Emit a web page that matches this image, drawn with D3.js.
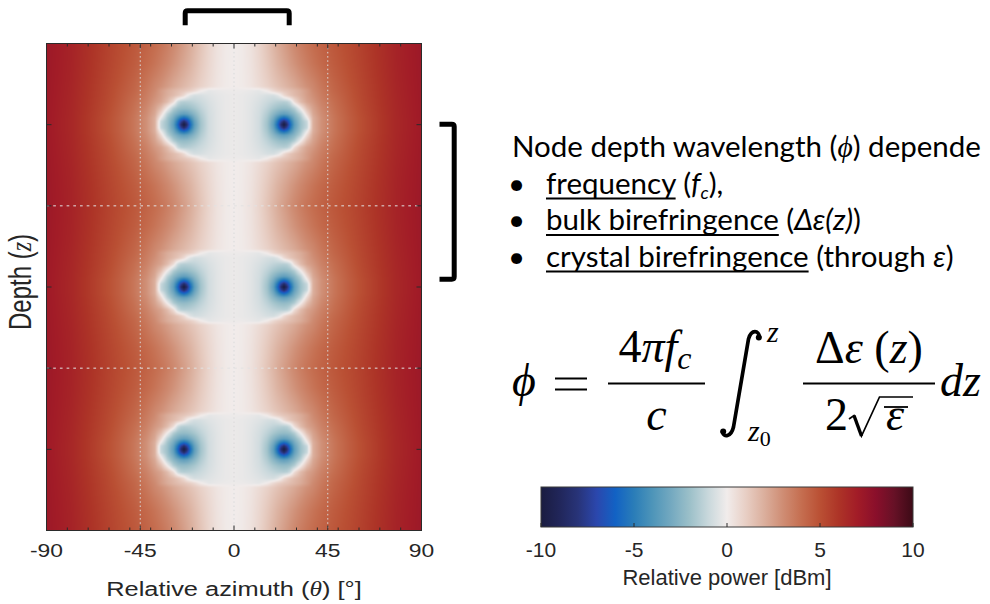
<!DOCTYPE html>
<html>
<head>
<meta charset="utf-8">
<script src="https://cdn.jsdelivr.net/npm/d3@7"></script>
<style>
  html, body { margin: 0; padding: 0; background: #fff; }
  svg { display: block; }
</style>
</head>
<body>
<svg id="fig" width="990" height="604"></svg>
<script>
// ---------- data ----------
// Azimuth axis (degrees) and depth axis (node spacing units, depth grows downward)
const azimuthTicks = [-90, -45, 0, 45, 90];
const azimuthMinorTicks = [-80, -70, -60, -50, -40, -30, -20, -10, 10, 20, 30, 40, 50, 60, 70, 80];
const azimuthGrid = [-45, 0, 45];
const depthTicks = [0, 1, 2, 3, 4, 5, 6];
const depthGrid = [2, 4];

// Depths of the node pairs; each node band shares the same power pattern
const nodeDepths = [1, 3, 5];

// Sample columns: |azimuth| in degrees (pattern is mirror-symmetric about 0)
const thetaCols = [0, 4, 8, 12, 16, 19, 21, 22.5, 24, 25.5, 27, 29, 32, 35, 38, 42, 48, 55, 62, 70, 78, 90];
// Sample rows: distance in depth from the nearest node row
const depthOffsets = [0, 0.04, 0.08, 0.13, 0.2, 0.28, 0.36, 0.42, 0.47, 0.52, 0.6, 0.75, 1.0];

// Relative power [dBm], one row per depth offset, one value per azimuth column
const powerGrid = [
  [-0.15, -0.2, -0.4, -0.8, -1.9, -3.6, -5.8, -8.3, -10, -8.3, -5.8, -3.6, -2.0, -1.1, 2.0, 2.9, 3.75, 4.5, 5.15, 5.85, 6.5, 7.15],
  [-0.15, -0.2, -0.4, -0.8, -1.85, -3.4, -5.3, -7.2, -8.4, -7.2, -5.3, -3.4, -1.95, -1.0, 2.0, 2.9, 3.75, 4.5, 5.15, 5.85, 6.5, 7.15],
  [-0.15, -0.2, -0.4, -0.78, -1.75, -3.0, -4.3, -5.3, -5.8, -5.3, -4.3, -3.0, -1.8, -0.2, 2.0, 2.9, 3.75, 4.5, 5.15, 5.85, 6.5, 7.15],
  [-0.15, -0.2, -0.4, -0.75, -1.55, -2.45, -3.0, -3.35, -3.5, -3.35, -3.0, -2.45, -1.3, 0.6, 2.2, 3.0, 3.8, 4.55, 5.2, 5.87, 6.52, 7.16],
  [-0.15, -0.2, -0.38, -0.7, -1.25, -1.75, -2.0, -2.15, -2.2, -2.15, -2.0, -1.5, 0.0, 1.5, 2.4, 3.15, 3.9, 4.6, 5.25, 5.9, 6.53, 7.17],
  [-0.15, -0.2, -0.35, -0.6, -0.95, -1.2, -1.35, -1.4, -1.45, -1.35, -0.9, 0.5, 1.6, 2.3, 2.7, 3.35, 4.0, 4.68, 5.3, 5.93, 6.55, 7.18],
  [-0.15, -0.2, -0.3, -0.45, -0.65, -0.7, -0.4, 0.0, 0.6, 1.0, 1.3, 1.6, 2.0, 2.5, 2.95, 3.5, 4.15, 4.75, 5.35, 5.96, 6.57, 7.19],
  [-0.1, -0.12, -0.2, -0.3, 0.1, 0.7, 1.0, 1.15, 1.3, 1.4, 1.55, 1.75, 2.1, 2.55, 3.1, 3.6, 4.25, 4.8, 5.38, 5.98, 6.59, 7.2],
  [0.0, 0.08, 0.25, 0.55, 0.9, 1.2, 1.4, 1.55, 1.7, 1.85, 2.0, 2.2, 2.55, 2.9, 3.2, 3.7, 4.3, 4.85, 5.4, 6.0, 6.6, 7.2],
  [0.0, 0.08, 0.27, 0.6, 0.97, 1.3, 1.5, 1.65, 1.8, 1.95, 2.1, 2.3, 2.65, 3.0, 3.3, 3.78, 4.35, 4.9, 5.43, 6.02, 6.62, 7.21],
  [0.0, 0.08, 0.29, 0.65, 1.07, 1.42, 1.65, 1.8, 1.97, 2.12, 2.3, 2.5, 2.85, 3.2, 3.5, 3.9, 4.45, 4.95, 5.47, 6.05, 6.64, 7.22],
  [0.0, 0.09, 0.32, 0.72, 1.2, 1.6, 1.88, 2.05, 2.23, 2.4, 2.6, 2.83, 3.18, 3.5, 3.8, 4.15, 4.6, 5.05, 5.53, 6.1, 6.67, 7.23],
  [0.0, 0.1, 0.35, 0.8, 1.35, 1.8, 2.1, 2.3, 2.5, 2.7, 2.9, 3.15, 3.5, 3.8, 4.05, 4.35, 4.75, 5.15, 5.6, 6.15, 6.7, 7.25]
];

// Diverging colour map for relative power
const powerTicks = [-10, -5, 0, 5, 10];
const powerStops = [-10, -9, -8, -7, -6, -5, -4, -3, -2, -1, 0, 1, 2, 3, 4, 5, 6, 7, 8, 9, 10];
const powerColors = ["#1a1c40", "#21265a", "#283479", "#2b47ad", "#1262c4", "#2a7db8", "#4e95b9",
  "#74a9c0", "#9cc0c9", "#c9d8dc", "#f1eceb", "#e8cfc5", "#dbaf9d", "#cf8d74", "#c56e50",
  "#ba5034", "#ad3427", "#a21c27", "#8a0f2b", "#661126", "#3c0a16"];

// ---------- layout ----------
const svg = d3.select("#fig");
const plot = { left: 46.5, right: 421.5, top: 43.5, bottom: 530.5 };
const axisInk = "#2b2b2b";
const sansFont = "'Liberation Sans', Arial, Helvetica, sans-serif";
const serifFont = "'Liberation Serif', 'DejaVu Serif', serif";
const stretchX = 1.27; // the axes panel is drawn wider than tall

const x = d3.scaleLinear().domain([-90, 90]).range([plot.left, plot.right]);
const y = d3.scaleLinear().domain([0, 6]).range([plot.top, plot.bottom]);
const color = d3.scaleLinear().domain(powerStops).range(powerColors).clamp(true);

// ---------- heat map ----------
function locate(arr, v) {
  let i = d3.bisectRight(arr, v) - 1;
  i = Math.max(0, Math.min(arr.length - 2, i));
  const t = Math.max(0, Math.min(1, (v - arr[i]) / (arr[i + 1] - arr[i])));
  return [i, t];
}
function powerAt(theta, depth) {
  const a = Math.abs(theta);
  const dz = Math.min(1, d3.min(nodeDepths, n => Math.abs(depth - n)));
  const [i, tx] = locate(thetaCols, a);
  const [j, ty] = locate(depthOffsets, dz);
  const r0 = powerGrid[j], r1 = powerGrid[j + 1];
  const top = r0[i] * (1 - tx) + r0[i + 1] * tx;
  const bot = r1[i] * (1 - tx) + r1[i + 1] * tx;
  return top * (1 - ty) + bot * ty;
}

const W = Math.round(plot.right - plot.left), H = Math.round(plot.bottom - plot.top);
const canvas = document.createElement("canvas");
canvas.width = W; canvas.height = H;
const ctx = canvas.getContext("2d");
const img = ctx.createImageData(W, H);
const lut = d3.range(0, 2001).map(k => d3.rgb(color(-10 + k * 0.01)));
for (let py = 0; py < H; py++) {
  const depth = y.invert(plot.top + py + 0.5);
  for (let px = 0; px < W; px++) {
    const theta = x.invert(plot.left + px + 0.5);
    const v = powerAt(theta, depth);
    const c = lut[Math.max(0, Math.min(2000, Math.round((v + 10) * 100)))];
    const o = (py * W + px) * 4;
    img.data[o] = c.r; img.data[o + 1] = c.g; img.data[o + 2] = c.b; img.data[o + 3] = 255;
  }
}
ctx.putImageData(img, 0, 0);
svg.append("image")
  .attr("x", plot.left).attr("y", plot.top)
  .attr("width", W).attr("height", H)
  .attr("preserveAspectRatio", "none")
  .attr("href", canvas.toDataURL());

// ---------- grid ----------
const grid = svg.append("g").attr("fill", "none");
grid.selectAll("line.v").data(azimuthGrid).join("line")
  .attr("class", "v")
  .attr("x1", d => x(d)).attr("x2", d => x(d))
  .attr("y1", plot.top).attr("y2", plot.bottom)
  .attr("stroke", "#d9d9d9").attr("stroke-width", 1)
  .attr("stroke-dasharray", "1.5,2.7");
grid.selectAll("line.h").data(depthGrid).join("line")
  .attr("class", "h")
  .attr("x1", plot.left).attr("x2", plot.right)
  .attr("y1", d => y(d)).attr("y2", d => y(d))
  .attr("stroke", "#e2e2e2").attr("stroke-width", 1)
  .attr("stroke-dasharray", "2.7,4");

// ---------- axes (ticks point inward) ----------
function tickOnly(g) {
  g.select(".domain").remove();
  g.selectAll("line").attr("stroke", axisInk);
  g.selectAll("text").remove();
}
const axes = svg.append("g");
axes.append("g").attr("transform", `translate(0,${plot.bottom})`)
  .call(d3.axisBottom(x).tickValues(azimuthTicks).tickSize(-5).offset(0)).call(tickOnly);
axes.append("g").attr("transform", `translate(0,${plot.bottom})`)
  .call(d3.axisBottom(x).tickValues(azimuthMinorTicks).tickSize(-3).offset(0)).call(tickOnly);
axes.append("g").attr("transform", `translate(0,${plot.top})`)
  .call(d3.axisTop(x).tickValues(azimuthTicks).tickSize(-5).offset(0)).call(tickOnly);
axes.append("g").attr("transform", `translate(0,${plot.top})`)
  .call(d3.axisTop(x).tickValues(azimuthMinorTicks).tickSize(-3).offset(0)).call(tickOnly);
axes.append("g").attr("transform", `translate(${plot.left},0)`)
  .call(d3.axisLeft(y).tickValues(depthTicks).tickSize(-5).offset(0)).call(tickOnly);
axes.append("g").attr("transform", `translate(${plot.right},0)`)
  .call(d3.axisRight(y).tickValues(depthTicks).tickSize(-5).offset(0)).call(tickOnly);
axes.append("rect")
  .attr("x", plot.left).attr("y", plot.top)
  .attr("width", plot.right - plot.left).attr("height", plot.bottom - plot.top)
  .attr("fill", "none").attr("stroke", axisInk).attr("stroke-width", 1);

// tick labels
axes.append("g").selectAll("g").data(azimuthTicks).join("g")
  .attr("transform", d => `translate(${x(d)},557) scale(${stretchX},1)`)
  .append("text")
  .attr("text-anchor", "middle")
  .attr("font-family", sansFont).attr("font-size", 18).attr("fill", "#262626")
  .text(d => String(d));

// axis titles
const xt = axes.append("g").attr("transform", `translate(${(plot.left + plot.right) / 2},596) scale(${stretchX},1)`)
  .append("text").attr("text-anchor", "middle")
  .attr("font-family", sansFont).attr("font-size", 20).attr("fill", "#262626");
xt.append("tspan").text("Relative azimuth (");
xt.append("tspan").attr("font-family", serifFont).attr("font-style", "italic").text("θ");
xt.append("tspan").text(") [°]");

const yt = axes.append("g").attr("transform", `translate(31,282) scale(${stretchX},1) rotate(-90)`)
  .append("text").attr("text-anchor", "middle")
  .attr("font-family", sansFont).attr("font-size", 24).attr("fill", "#262626");
yt.append("tspan").text("Depth (");
yt.append("tspan").attr("font-family", serifFont).attr("font-style", "italic").text("z");
yt.append("tspan").text(")");

// ---------- brackets ----------
svg.append("path")
  .attr("d", "M185.2,25.3 V13.2 Q185.2,10.8 187.6,10.8 H286.8 Q289.2,10.8 289.2,13.2 V25.3")
  .attr("fill", "none").attr("stroke", "#000").attr("stroke-width", 5);
svg.append("path")
  .attr("d", "M439.5,124.2 H451.8 Q454.2,124.2 454.2,126.6 V276.8 Q454.2,279.2 451.8,279.2 H439.5")
  .attr("fill", "none").attr("stroke", "#000").attr("stroke-width", 5);

// ---------- notes ----------
const noteFont = "Lato, 'Open Sans', sans-serif";
const notes = svg.append("g").attr("font-family", noteFont).attr("font-size", 29.5).attr("fill", "#000");
const lineY = [157, 193.5, 230, 266.5];

const n1 = notes.append("text").attr("x", 512).attr("y", lineY[0]);
n1.append("tspan").text("Node depth wavelength (");
n1.append("tspan").attr("font-family", serifFont).attr("font-style", "italic").text("ϕ");
n1.append("tspan").text(") depende");

notes.selectAll("text.bullet").data(lineY.slice(1)).join("text")
  .attr("class", "bullet").attr("x", 508).attr("y", d => d).text("•");

const n2 = notes.append("text").attr("x", 546).attr("y", lineY[1]);
n2.append("tspan").attr("data-u", "1").text("frequency");
n2.append("tspan").text(" (");
n2.append("tspan").attr("font-style", "italic").text("f");
n2.append("tspan").attr("font-style", "italic").attr("font-size", 18).attr("dy", 5).text("c");
n2.append("tspan").attr("dy", -5).text("),");

const n3 = notes.append("text").attr("x", 546).attr("y", lineY[2]);
n3.append("tspan").attr("data-u", "1").text("bulk birefringence");
n3.append("tspan").text(" (");
n3.append("tspan").attr("font-style", "italic").text("Δε(z)");
n3.append("tspan").text(")");

const n4 = notes.append("text").attr("x", 546).attr("y", lineY[3]);
n4.append("tspan").attr("data-u", "1").text("crystal birefringence");
n4.append("tspan").text(" (through ");
n4.append("tspan").attr("font-style", "italic").text("ε");
n4.append("tspan").text(")");

// underline strokes measured from the rendered words
[[n2, lineY[1]], [n3, lineY[2]], [n4, lineY[3]]].forEach(([t, by]) => {
  const len = t.select("tspan[data-u]").node().getComputedTextLength();
  notes.append("line").attr("x1", 546).attr("x2", 546 + len)
    .attr("y1", by + 5).attr("y2", by + 5)
    .attr("stroke", "#000").attr("stroke-width", 1.9);
});

// ---------- equation ----------
const eq = svg.append("g").attr("font-family", serifFont).attr("font-size", 46).attr("fill", "#000");
eq.append("text").attr("x", 524).attr("y", 395.5).attr("text-anchor", "middle")
  .attr("font-style", "italic").text("ϕ");
eq.append("path").attr("d", "M555,378.5 H587 M555,389.5 H587")
  .attr("stroke", "#000").attr("stroke-width", 2);

// first fraction
eq.append("line").attr("x1", 608).attr("x2", 705).attr("y1", 383.5).attr("y2", 383.5)
  .attr("stroke", "#000").attr("stroke-width", 1.9);
const num1 = eq.append("text").attr("x", 655).attr("y", 361.5).attr("text-anchor", "middle");
num1.append("tspan").text("4");
num1.append("tspan").attr("font-style", "italic").text("π");
num1.append("tspan").attr("font-style", "italic").text("f");
num1.append("tspan").attr("font-style", "italic").attr("font-size", 32).attr("dy", 7).text("c");
eq.append("text").attr("x", 656.5).attr("y", 430).attr("text-anchor", "middle")
  .attr("font-style", "italic").text("c");

// integral sign with limits
eq.append("path")
  .attr("d", "M759.5,337 C759,330.5 751.5,328.5 748.5,339 L733.5,427 C731,437.5 723.5,437.5 722.5,432")
  .attr("fill", "none").attr("stroke", "#000").attr("stroke-width", 3.7).attr("stroke-linecap", "round");
eq.append("circle").attr("cx", 758.8).attr("cy", 337.5).attr("r", 3);
eq.append("circle").attr("cx", 723.2).attr("cy", 431.5).attr("r", 3);
eq.append("text").attr("x", 767).attr("y", 342).attr("font-size", 30).attr("font-style", "italic").text("z");
const lo = eq.append("text").attr("x", 748).attr("y", 441).attr("font-size", 30);
lo.append("tspan").attr("font-style", "italic").text("z");
lo.append("tspan").attr("font-size", 22).attr("dy", 5).text("0");

// second fraction
eq.append("line").attr("x1", 803).attr("x2", 935).attr("y1", 383.5).attr("y2", 383.5)
  .attr("stroke", "#000").attr("stroke-width", 1.9);
const num2 = eq.append("text").attr("x", 869).attr("y", 363).attr("text-anchor", "middle");
num2.append("tspan").text("Δ");
num2.append("tspan").attr("font-style", "italic").text("ε");
num2.append("tspan").text(" (");
num2.append("tspan").attr("font-style", "italic").text("z");
num2.append("tspan").text(")");
eq.append("text").attr("x", 836.5).attr("y", 430).attr("text-anchor", "middle").text("2");
eq.append("path").attr("d", "M849,419 L854,415.5 L861.5,436 L879.5,397 H913")
  .attr("fill", "none").attr("stroke", "#000").attr("stroke-width", 1.7).attr("stroke-linejoin", "miter");
eq.append("line").attr("x1", 854).attr("y1", 415.5).attr("x2", 861.5).attr("y2", 436)
  .attr("stroke", "#000").attr("stroke-width", 3.4);
eq.append("text").attr("x", 895).attr("y", 430).attr("text-anchor", "middle")
  .attr("font-style", "italic").text("ε");
eq.append("line").attr("x1", 884).attr("x2", 908).attr("y1", 407).attr("y2", 407)
  .attr("stroke", "#000").attr("stroke-width", 1.8);
eq.append("text").attr("x", 940).attr("y", 396).attr("font-style", "italic").text("dz");

// ---------- colour bar ----------
const cb = { left: 541, right: 913, top: 487, bottom: 527 };
const cx = d3.scaleLinear().domain([-10, 10]).range([cb.left, cb.right]);
const grad = svg.append("defs").append("linearGradient").attr("id", "powerGrad")
  .attr("x1", "0%").attr("x2", "100%").attr("y1", "0%").attr("y2", "0%");
grad.selectAll("stop").data(powerStops).join("stop")
  .attr("offset", d => `${(d + 10) * 5}%`)
  .attr("stop-color", (d, i) => powerColors[i]);
svg.append("rect").attr("x", cb.left).attr("y", cb.top)
  .attr("width", cb.right - cb.left).attr("height", cb.bottom - cb.top)
  .attr("fill", "url(#powerGrad)").attr("stroke", "#3a3a3a").attr("stroke-width", 1);
svg.append("g").attr("transform", `translate(0,${cb.bottom})`)
  .call(d3.axisBottom(cx).tickValues(powerTicks).tickSize(-4).offset(0)).call(tickOnly);
svg.append("g").selectAll("text").data(powerTicks).join("text")
  .attr("x", d => cx(d)).attr("y", 557).attr("text-anchor", "middle")
  .attr("font-family", sansFont).attr("font-size", 21).attr("fill", "#262626")
  .text(d => String(d));
svg.append("text").attr("x", (cb.left + cb.right) / 2).attr("y", 585).attr("text-anchor", "middle")
  .attr("font-family", sansFont).attr("font-size", 22).attr("fill", "#262626")
  .text("Relative power [dBm]");
</script>
</body>
</html>
